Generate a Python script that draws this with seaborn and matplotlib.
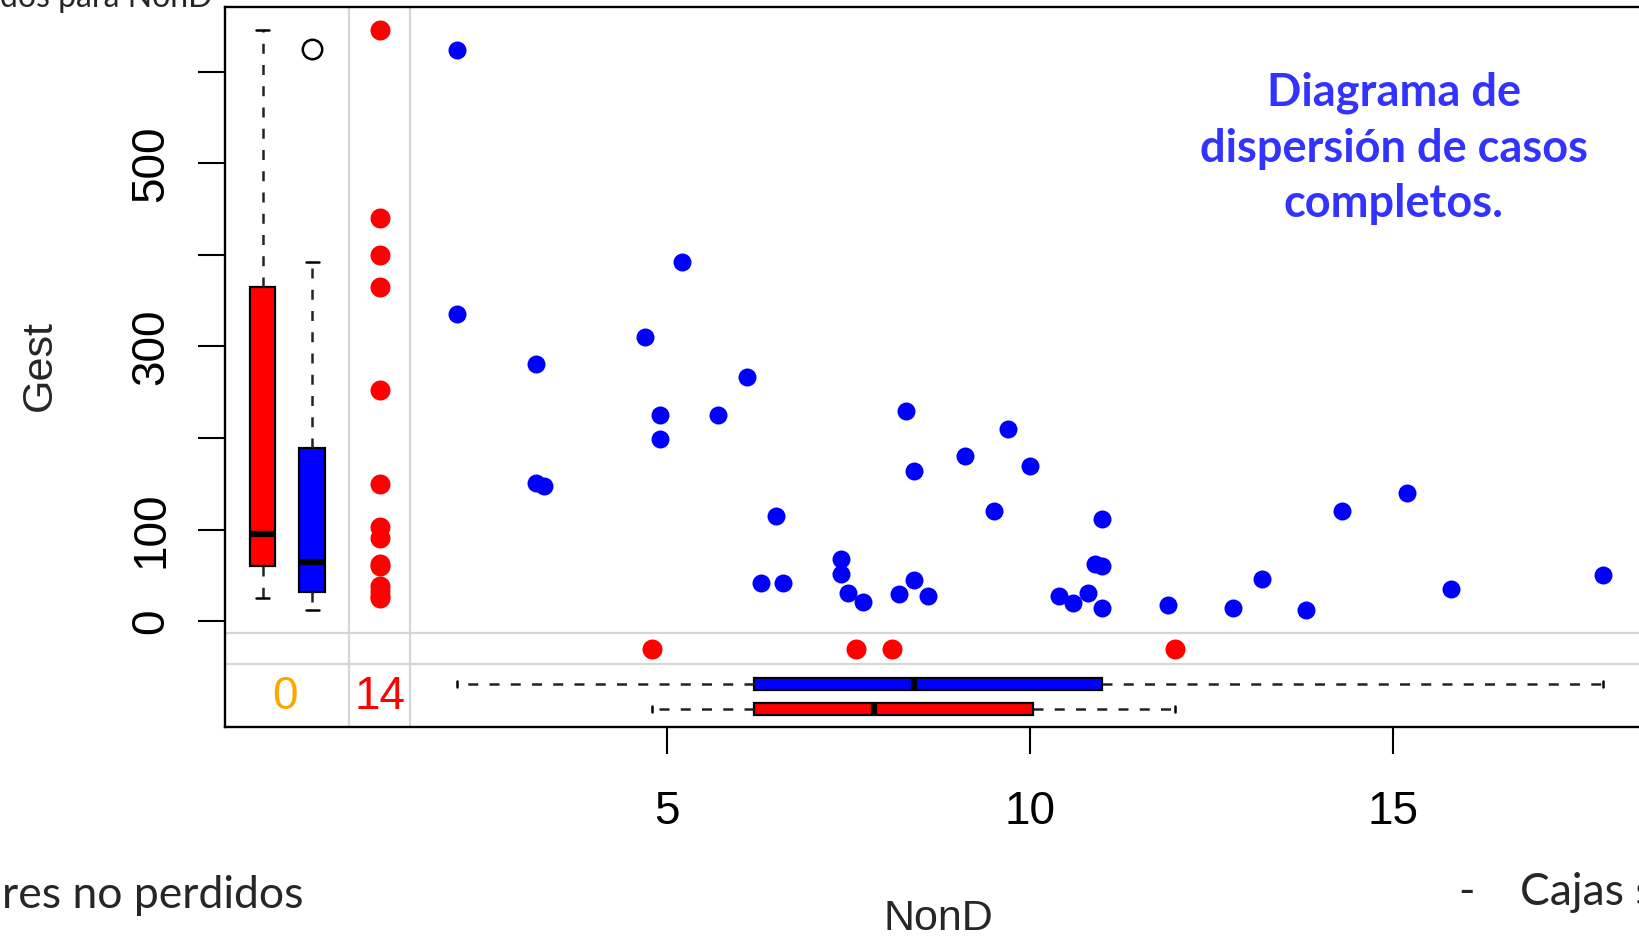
import matplotlib
matplotlib.use("Agg")
import matplotlib.pyplot as plt
import seaborn as sns

# complete cases: NonD (x) and Gest (y)
nond_complete = [2.1, 2.1, 3.2, 3.2, 3.3, 4.7, 4.9, 4.9, 5.2, 5.7,
                 6.1, 6.5, 6.3, 6.6, 7.4, 7.4, 7.5, 7.7, 8.3, 8.2,
                 8.4, 8.4, 8.6, 9.1, 9.5, 9.7, 10.0, 10.4, 10.6, 10.8,
                 10.9, 11.0, 11.0, 11.0, 11.9, 12.8, 13.2, 13.8, 14.3, 15.2,
                 15.8, 17.9]
gest_complete = [624, 336, 281, 151, 148, 310, 225, 199, 392, 225,
                 267, 115, 42, 42, 68, 52, 31, 21, 230, 30,
                 45, 164, 28, 180, 120, 210, 170, 28, 20, 31,
                 63, 60, 112, 15, 18, 14, 46, 12, 120, 140,
                 35, 50]

# Gest where NonD is missing, NonD where Gest is missing
gest_nond_missing = [645, 440, 400, 365, 252, 150, 103, 91, 63, 60, 38, 33, 28, 25]
nond_gest_missing = [4.8, 7.6, 8.1, 12.0]
n_both_missing = 0

# boxplot summaries
box_gest_nond_missing = dict(whislo=25, q1=60, med=95, q3=365, whishi=645, fliers=[])
box_gest_nond_observed = dict(whislo=12, q1=32, med=65, q3=189, whishi=392, fliers=[625])
box_nond_gest_observed = dict(whislo=2.1, q1=6.2, med=8.4, q3=11.0, whishi=17.9, fliers=[])
box_nond_gest_missing = dict(whislo=4.8, q1=6.2, med=7.85, q3=10.05, whishi=12.0, fliers=[])

title_lines = ["Diagrama de", "dispersión de casos", "completos."]

W, H = 1640, 938
RED, BLUE = "#ff0000", "#0000ff"
GRID = "#d6d6d6"

# margin layout (data units)
miss_col_x = 1.04
miss_row_y = -30
left_box_pos = [-0.572, 0.11]
bottom_box_pos = [-68.3, -96.0]

sns.set_style("white")
plt.rcParams["font.family"] = ["Liberation Sans", "DejaVu Sans"]

fig = plt.figure(figsize=(W / 100, H / 100), dpi=100)
ax = fig.add_axes([225 / W, 1 - 727 / H, (1662 - 225) / W, (727 - 7.3) / H])
ax.set_xlim(-1.09, 18.71)
ax.set_ylim(-115.4, 670.3)

for xv in (0.62, 1.455):
    ax.axvline(xv, color=GRID, lw=1.6, zorder=0)
for yv in (-13.1, -46.9):
    ax.axhline(yv, color=GRID, lw=1.6, zorder=0)

sns.scatterplot(x=nond_complete, y=gest_complete, color=BLUE, s=168,
                linewidth=0, ax=ax, zorder=3)
sns.scatterplot(x=[miss_col_x] * len(gest_nond_missing), y=gest_nond_missing,
                color=RED, s=207, linewidth=0, ax=ax, zorder=3)
sns.scatterplot(x=nond_gest_missing, y=[miss_row_y] * len(nond_gest_missing),
                color=RED, s=207, linewidth=0, ax=ax, zorder=3)

box_kw = dict(
    patch_artist=True,
    showfliers=True,
    manage_ticks=False,
    boxprops=dict(edgecolor="black", linewidth=1.6),
    whiskerprops=dict(color="#222222", linewidth=1.8, linestyle=(0, (4, 4.5))),
    capprops=dict(color="black", linewidth=1.8),
    medianprops=dict(color="black", linewidth=4.5, solid_capstyle="butt"),
    flierprops=dict(marker="o", markerfacecolor="none", markeredgecolor="black",
                    markersize=14, markeredgewidth=1.8),
)
bp = ax.bxp([box_gest_nond_missing, box_gest_nond_observed], positions=left_box_pos,
            widths=0.35, capwidths=0.18, **box_kw)
for patch, c in zip(bp["boxes"], [RED, BLUE]):
    patch.set_facecolor(c)

bp2 = ax.bxp([box_nond_gest_observed, box_nond_gest_missing], positions=bottom_box_pos,
             widths=13.4, capwidths=6, orientation="horizontal", **box_kw)
for patch, c in zip(bp2["boxes"], [BLUE, RED]):
    patch.set_facecolor(c)

ax.text(-0.26, -83, str(n_both_missing), color="orange", fontsize=33,
        ha="center", va="center")
ax.text(miss_col_x, -83, str(len(gest_nond_missing)), color=RED, fontsize=33,
        ha="center", va="center")

ax.set_xticks([5, 10, 15])
ax.set_yticks([0, 100, 200, 300, 400, 500, 600])
ax.set_yticklabels(["0", "100", "", "300", "", "500", ""])
ax.tick_params(axis="both", length=19.4, width=1.5, color="black",
               labelsize=33, labelcolor="black", left=True, bottom=True)
ax.tick_params(axis="x", pad=26)
ax.tick_params(axis="y", pad=18, labelrotation=90)
for lbl in ax.get_yticklabels():
    lbl.set_va("center")

for s in ax.spines.values():
    s.set_color("black")
    s.set_linewidth(1.7)

ax.set_xlabel("NonD", fontsize=31)
ax.xaxis.set_label_coords((938 - 225) / 1437, -0.239)
ax.set_ylabel("Gest", fontsize=31)
ax.yaxis.set_label_coords((60 - 225) / 1437, 0.5016)

# slide text around the chart
baselines = [105, 161.7, 216.7]
for line, yb in zip(title_lines, baselines):
    fig.text(1394 / W, 1 - yb / H, line, ha="center", va="baseline",
             color="#3333ff", fontsize=32.5, fontweight="bold",
             family=["Lato", "DejaVu Sans"])

fig.text(2 / W, 1 - 908 / H, "res no perdidos", ha="left", va="baseline",
         fontsize=32, family=["Lato", "DejaVu Sans"])
fig.text(0 / W, 1 - 7 / H, "dos para NonD", ha="left", va="baseline",
         fontsize=23, family=["Lato", "DejaVu Sans"])
fig.text(1467 / W, 1 - 905 / H, "-", ha="center", va="baseline",
         fontsize=32, family=["Lato", "DejaVu Sans"])
fig.text(1520 / W, 1 - 905 / H, "Cajas s", ha="left", va="baseline",
         fontsize=32, family=["Lato", "DejaVu Sans"])

fig.savefig("out.png", dpi=100)
